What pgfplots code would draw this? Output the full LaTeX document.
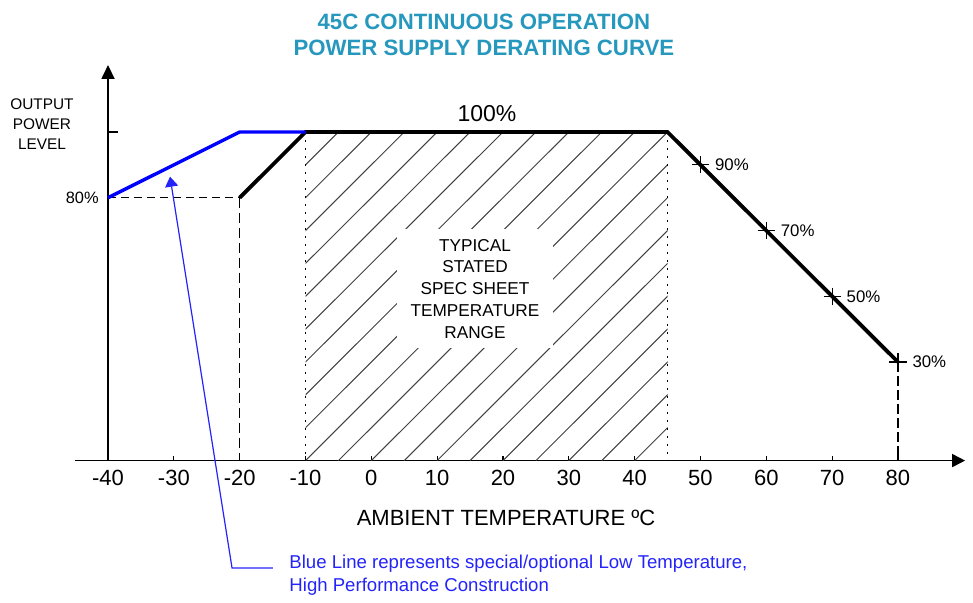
\documentclass[border=0pt]{standalone}
\usepackage{fontspec}
\setmainfont{Liberation Sans}
\usepackage{pgfplots}
\pgfplotsset{compat=1.18}
\usetikzlibrary{arrows.meta}
\definecolor{titleteal}{RGB}{38,152,190}
\definecolor{noteblue}{RGB}{35,35,250}

\begin{document}
\begin{tikzpicture}
\begin{axis}[
  scale only axis,
  width=445pt, height=197.8pt,
  xmin=-45, xmax=90.2, ymin=0, ymax=120.4,
  axis x line=bottom,
  axis y line=none,
  every outer x axis line/.append style={-{Triangle[length=6.5pt,width=6.5pt]}},
  x axis line style={line width=0.85pt},
  xtick={-40,-30,...,80},
  xticklabels={-40,-30,-20,-10,0,10,20,30,40,50,60,70,80},
  ytick=\empty,
  tick align=inside,
  major tick length=2.5pt,
  tick style={line width=0.6pt, black},
  xticklabel style={font=\fontsize{11}{13}\selectfont, yshift=-1pt},
  clip=false,
]
% page frame (973 x 603 px)
\path (axis cs:-56.41,140.18) rectangle (axis cs:91.40,-43.34);

% hatched spec range
\begin{scope}
\clip (axis cs:-10,0) rectangle (axis cs:45,100);
\pgfplotsinvokeforeach{-60,-55,...,45}{
  \draw[line width=0.5pt, black!75] (axis cs:#1,0) -- ++(axis direction cs:50,100);
}
\end{scope}
\node[fill=white, inner xsep=7pt, inner ysep=5pt, align=center,
      font=\fontsize{8.6}{10.85}\selectfont] at (axis cs:15.75,52.3)
      {TYPICAL\\STATED\\SPEC SHEET\\TEMPERATURE\\RANGE};

% guide lines
\addplot[black, line width=0.6pt, dash pattern=on 4pt off 2.5pt] coordinates {(-40,80) (-20,80)};
\addplot[black, line width=0.6pt, dash pattern=on 5pt off 2.5pt] coordinates {(-20,80) (-20,0)};
\addplot[black, line width=0.6pt, dash pattern=on 1pt off 3pt] coordinates {(-10,100) (-10,0)};
\addplot[black, line width=0.6pt, dash pattern=on 1pt off 3pt] coordinates {(45,100) (45,0)};
\addplot[black, line width=0.6pt, dash pattern=on 5pt off 2pt] coordinates {(80,30) (80,0)};

% y axis
\draw[line width=0.85pt, -{Triangle[length=7pt,width=6.5pt]}] (axis cs:-40,0) -- (axis cs:-40,120.4);
\draw[line width=0.6pt] (axis cs:-40,100) -- (axis cs:-38.48,100);

% derating curves
\addplot[black, line width=1.9pt] coordinates {(-20,80) (-10,100) (45,100) (80,30)};
\addplot[blue, line width=1.7pt] coordinates {(-40,80) (-20,100) (-10,100)};
\addplot[black, only marks, mark=+, mark size=4.3pt, mark options={line width=0.6pt},
  point meta=explicit symbolic, nodes near coords, nodes near coords align=horizontal,
  nodes near coords style={anchor=west, inner sep=0pt, xshift=7pt, font=\fontsize{8.4}{10}\selectfont}]
  coordinates {(50,90) [90\%] (60,70) [70\%] (70,50) [50\%] (80,30) [30\%]};

% labels
\node[anchor=east, inner sep=0pt, font=\fontsize{8.2}{10}\selectfont] at (axis cs:-41.37,80) {80\%};
\node[align=center, inner sep=0pt, font=\fontsize{7.7}{10}\selectfont] at (axis cs:-50.03,102.3) {OUTPUT\\POWER\\LEVEL};
\node[anchor=base, inner sep=0pt, font=\fontsize{11.5}{14}\selectfont] at (axis cs:17.57,103.35) {100\%};
\node[anchor=base, inner sep=0pt, text=titleteal, font=\bfseries\fontsize{11.1}{13}\selectfont] at (axis cs:17.1,131.05) {45C CONTINUOUS OPERATION};
\node[anchor=base, inner sep=0pt, text=titleteal, font=\bfseries\fontsize{11.1}{13}\selectfont] at (axis cs:17.1,123.14) {POWER SUPPLY DERATING CURVE};
\node[anchor=base, inner sep=0pt, font=\fontsize{11}{14}\selectfont] at (axis cs:20.46,-19.8) {AMBIENT TEMPERATURE ºC};

% blue note
\draw[noteblue, line width=0.6pt, -{Triangle[length=5pt,width=6.5pt]}]
  (axis cs:-14.94,-32.69) -- (axis cs:-21.16,-32.69) -- (axis cs:-30.58,86.4);
\node[anchor=base west, inner sep=0pt, text=noteblue, font=\fontsize{9.3}{11}\selectfont] at (axis cs:-12.5,-32.8) {Blue Line represents special/optional Low Temperature,};
\node[anchor=base west, inner sep=0pt, text=noteblue, font=\fontsize{9.3}{11}\selectfont] at (axis cs:-12.5,-39.7) {High Performance Construction};
\end{axis}
\end{tikzpicture}
\end{document}
